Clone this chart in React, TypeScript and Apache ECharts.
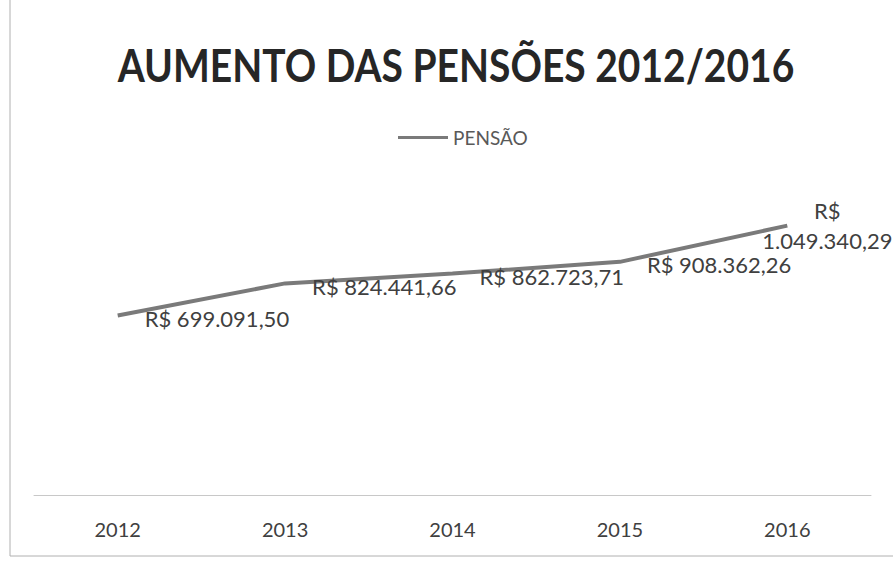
import React, { useEffect, useRef } from "react";
import * as echarts from "echarts";

const categories = ["2012", "2013", "2014", "2015", "2016"];
const pensaoValues = [699091.5, 824441.66, 862723.71, 908362.26, 1049340.29];
const seriesName = "PENSÃO";
const titleText = "AUMENTO DAS PENSÕES 2012/2016";

const fmt = (v: number) => {
  const [i, d] = v.toFixed(2).split(".");
  return "R$ " + i.replace(/\B(?=(\d{3})+(?!\d))/g, ".") + "," + d;
};

export default function App() {
  const ref = useRef<HTMLDivElement>(null);
  useEffect(() => {
    const chart = echarts.init(ref.current!, null, { renderer: "svg" });
    const font = "Lato, 'Open Sans', sans-serif";
    const data = pensaoValues.map((v, i) => {
      if (i === pensaoValues.length - 1) {
        return {
          value: v,
          label: {
            formatter: fmt(v).replace(" ", "\n"),
            position: [42, 2],
            align: "center",
            verticalAlign: "middle",
            lineHeight: 30,
            offset: [0, 0],
          },
        };
      }
      return { value: v };
    });
    chart.setOption({
      animation: false,
      backgroundColor: "#ffffff",
      legend: {
        top: 123,
        left: 393,
        icon: "rect",
        itemWidth: 50,
        itemHeight: 3,
        itemStyle: { color: "#7a7a7a", opacity: 1 },
        textStyle: { fontFamily: font, fontSize: 19, color: "#595959" },
        data: [seriesName],
      },
      grid: { left: 34, right: 22, top: 187, bottom: 73 },
      xAxis: {
        type: "category",
        data: categories,
        boundaryGap: true,
        axisLine: { lineStyle: { color: "#c8c8c8", width: 1 } },
        axisTick: { show: false },
        axisLabel: { fontFamily: font, fontSize: 20, color: "#404040", margin: 24 },
      },
      yAxis: {
        type: "value",
        min: 0,
        max: 1200000,
        interval: 200000,
        show: false,
        splitLine: { show: false },
      },
      graphic: [
        {
          type: "rect",
          shape: { x: 10, y: -5, width: 900, height: 561 },
          style: { fill: "none", stroke: "#b0b0b0", lineWidth: 1 },
          silent: true,
        },
        {
          type: "text",
          x: 456,
          y: 64,
          scaleY: 1.18,
          style: {
            text: titleText,
            fontFamily: "Lato, sans-serif",
            fontSize: 39,
            fontWeight: "bold",
            fill: "#262626",
            align: "center",
            verticalAlign: "middle",
          },
          silent: true,
        },
      ],
      series: [
        {
          name: seriesName,
          type: "line",
          data,
          showSymbol: true,
          symbol: "circle",
          symbolSize: 4,
          lineStyle: { color: "#7a7a7a", width: 4 },
          itemStyle: { color: "rgba(0,0,0,0)" },
          label: {
            show: true,
            position: "right",
            distance: 25,
            offset: [0, 3],
            formatter: (p: any) => fmt(p.value),
            fontFamily: font,
            fontSize: 22,
            color: "#404040",
          },
        },
      ],
    });
    return () => chart.dispose();
  }, []);
  return <div ref={ref} style={{ width: 893, height: 568, position: "absolute", left: 0, top: 0 }} />;
}
